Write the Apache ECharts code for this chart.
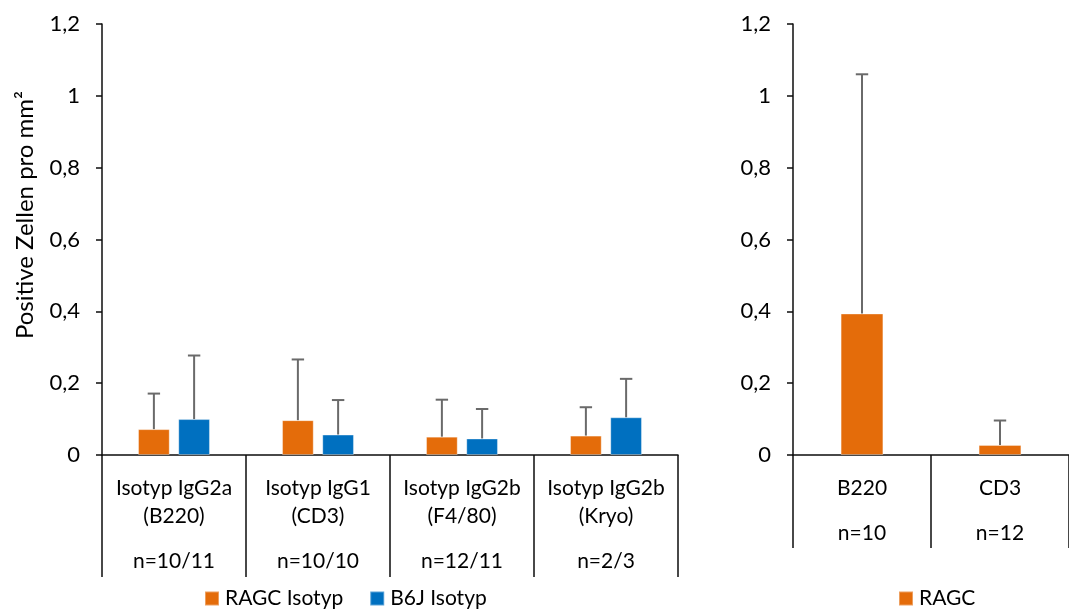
<!DOCTYPE html>
<html>
<head>
<meta charset="utf-8">
<script src="https://cdn.jsdelivr.net/npm/echarts@6/dist/echarts.min.js"></script>
<style>
  html, body { margin: 0; padding: 0; background: #fff; }
  #chart { width: 1069px; height: 609px; }
</style>
</head>
<body>
<div id="chart"></div>
<script>
// Left panel: isotype controls, two mouse lines
const antibodyLeft = ['Isotyp IgG2a', 'Isotyp IgG1', 'Isotyp IgG2b', 'Isotyp IgG2b'];
const targetLeft = ['(B220)', '(CD3)', '(F4/80)', '(Kryo)'];
const nLeft = ['n=10/11', 'n=10/10', 'n=12/11', 'n=2/3'];
const ragcIsoMean = [0.072, 0.097, 0.051, 0.054];
const ragcIsoSd = [0.099, 0.169, 0.103, 0.079];
const b6jIsoMean = [0.100, 0.057, 0.046, 0.105];
const b6jIsoSd = [0.177, 0.096, 0.082, 0.107];

// Right panel: specific staining, RAGC only
const categoriesRight = ['B220', 'CD3'];
const nRight = ['n=10', 'n=12'];
const ragcMean = [0.394, 0.028];
const ragcSd = [0.666, 0.068];

const yTicks = { min: 0, max: 1.2, interval: 0.2 };
const seriesNames = ['RAGC Isotyp', 'B6J Isotyp', 'RAGC'];
const yTitle = 'Positive Zellen pro mm\u00B2';

const FONT = 'Lato';
const FS = 21;
const ORANGE = '#E46C0A';
const BLUE = '#0070C0';
const ERR = '#6a6a6a';
const AXIS = '#0d0d0d';

const leftCats = antibodyLeft.map((a, i) => a + ' ' + targetLeft[i]);

function yAxisFor(gridIndex) {
  return {
    type: 'value', gridIndex: gridIndex,
    min: yTicks.min, max: yTicks.max, interval: yTicks.interval,
    axisLine: { show: true, lineStyle: { color: AXIS, width: 1.5 } },
    axisTick: { show: true, length: 6, lineStyle: { color: AXIS, width: 1.5 } },
    splitLine: { show: false },
    axisLabel: {
      margin: 22, color: '#000', fontFamily: FONT, fontSize: 22,
      formatter: v => String(+v.toFixed(1)).replace('.', ',')
    }
  };
}

const richStyles = (nLine) => ({
  a: { fontFamily: FONT, fontSize: FS, color: '#000', lineHeight: 28.4 },
  n: { fontFamily: FONT, fontSize: FS, color: '#000', lineHeight: nLine }
});

// upper-only error bar, offset within the category like the grouped bars
function errorBar(means, sds, offsetFrac, color) {
  return function (params, api) {
    const i = api.value(0);
    const catW = api.size([1, 0])[0];
    const base = api.coord([i, means[i]]);
    const top = api.coord([i, means[i] + sds[i]]);
    const x = base[0] + offsetFrac * catW;
    const cap = 6.2;
    return {
      type: 'group',
      children: [
        { type: 'line', shape: { x1: x, y1: base[1], x2: x, y2: top[1] },
          style: { stroke: color, lineWidth: 2 } },
        { type: 'line', shape: { x1: x - cap, y1: top[1], x2: x + cap, y2: top[1] },
          style: { stroke: color, lineWidth: 2 } }
      ]
    };
  };
}

const BW_L = 0.22, GAP_L = 0.27;
const offL = (BW_L + BW_L * GAP_L) / 2;

const legendText = { fontFamily: FONT, fontSize: FS, color: '#000', padding: [0, 0, 0, 1] };

const option = {
  animation: false,
  backgroundColor: '#fff',
  textStyle: { fontFamily: FONT },
  grid: [
    { left: 102, top: 24, width: 576, height: 431 },
    { left: 793, top: 24, width: 280, height: 431 }
  ],
  xAxis: [
    {
      type: 'category', gridIndex: 0, data: leftCats,
      axisLine: { show: true, lineStyle: { color: AXIS, width: 1.5 } },
      axisTick: { show: true, length: 122, lineStyle: { color: AXIS, width: 1.5 } },
      axisLabel: {
        margin: 19, interval: 0,
        formatter: (v, i) => '{a|' + antibodyLeft[i] + '}\n{a|' + targetLeft[i] + '}\n{n|' + nLeft[i] + '}',
        rich: richStyles(61.6)
      }
    },
    {
      type: 'category', gridIndex: 1, data: categoriesRight,
      axisLine: { show: true, lineStyle: { color: AXIS, width: 1.5 } },
      axisTick: { show: true, length: 93, lineStyle: { color: AXIS, width: 1.5 } },
      axisLabel: {
        margin: 19, interval: 0,
        formatter: (v, i) => '{a|' + categoriesRight[i] + '}\n{n|' + nRight[i] + '}',
        rich: richStyles(62.2)
      }
    }
  ],
  yAxis: [yAxisFor(0), yAxisFor(1)],
  legend: [
    {
      data: [seriesNames[0], seriesNames[1]],
      left: 204, top: 588, padding: 0, itemWidth: 14, itemHeight: 14, itemGap: 26, icon: 'rect',
      textStyle: legendText, selectedMode: false
    },
    {
      data: [seriesNames[2]],
      left: 898, top: 588, padding: 0, itemWidth: 14, itemHeight: 14, icon: 'rect',
      textStyle: legendText, selectedMode: false
    }
  ],
  graphic: [
    {
      type: 'text', x: 25, y: 215, rotation: Math.PI / 2,
      style: {
        text: yTitle, fontFamily: FONT, fontSize: 24, fill: '#000',
        textAlign: 'center', textVerticalAlign: 'middle'
      }
    }
  ],
  series: [
    {
      name: seriesNames[0], type: 'bar', xAxisIndex: 0, yAxisIndex: 0,
      data: ragcIsoMean, barWidth: (BW_L * 100) + '%', barGap: (GAP_L * 100) + '%',
      itemStyle: { color: ORANGE, borderColor: 'rgba(255,255,255,0.35)', borderWidth: 1 }
    },
    {
      name: seriesNames[1], type: 'bar', xAxisIndex: 0, yAxisIndex: 0,
      data: b6jIsoMean, barWidth: (BW_L * 100) + '%', barGap: (GAP_L * 100) + '%',
      itemStyle: { color: BLUE, borderColor: 'rgba(255,255,255,0.35)', borderWidth: 1 }
    },
    {
      name: seriesNames[0] + ' SD', type: 'custom', xAxisIndex: 0, yAxisIndex: 0, z: 3,
      data: ragcIsoMean.map((v, i) => [i, v]),
      renderItem: errorBar(ragcIsoMean, ragcIsoSd, -offL, ERR)
    },
    {
      name: seriesNames[1] + ' SD', type: 'custom', xAxisIndex: 0, yAxisIndex: 0, z: 3,
      data: b6jIsoMean.map((v, i) => [i, v]),
      renderItem: errorBar(b6jIsoMean, b6jIsoSd, offL, ERR)
    },
    {
      name: seriesNames[2], type: 'bar', xAxisIndex: 1, yAxisIndex: 1,
      data: ragcMean, barWidth: '31%',
      itemStyle: { color: ORANGE, borderColor: 'rgba(255,255,255,0.35)', borderWidth: 1 }
    },
    {
      name: seriesNames[2] + ' SD', type: 'custom', xAxisIndex: 1, yAxisIndex: 1, z: 3,
      data: ragcMean.map((v, i) => [i, v]),
      renderItem: errorBar(ragcMean, ragcSd, 0, ERR)
    }
  ]
};

const chart = echarts.init(document.getElementById('chart'), null, { renderer: 'canvas' });
chart.setOption(option);
</script>
</body>
</html>
